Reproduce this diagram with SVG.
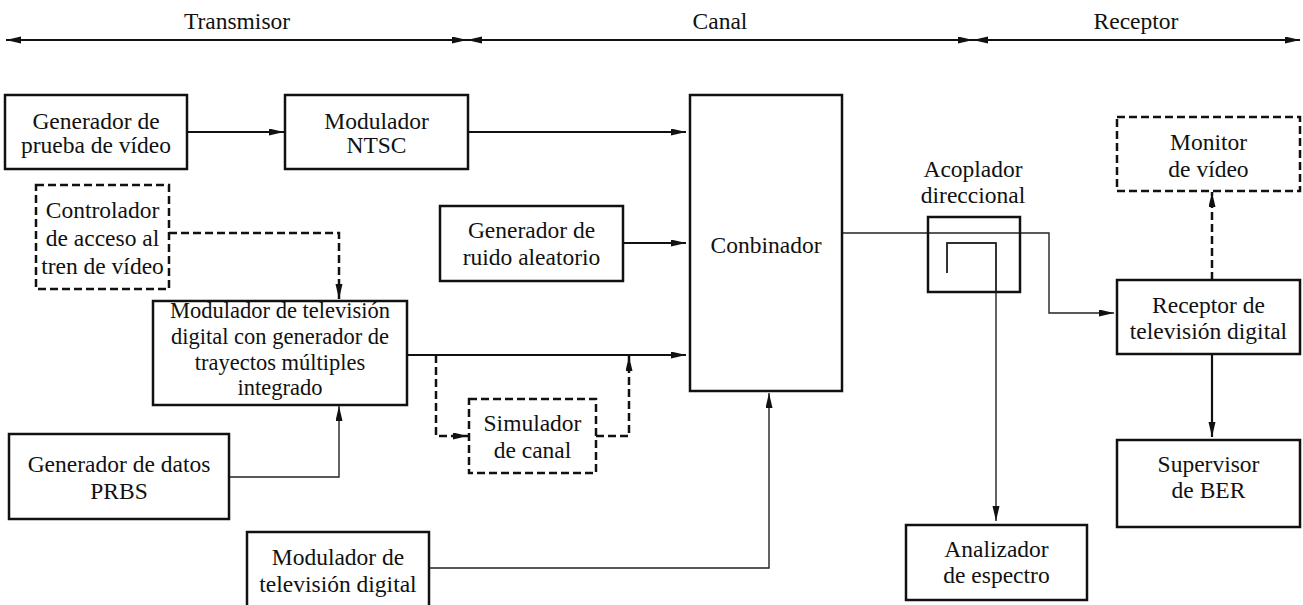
<svg xmlns="http://www.w3.org/2000/svg" width="1303" height="605" viewBox="0 0 1303 605" font-family="Liberation Serif, DejaVu Serif, serif">
<style>
text{font-size:23.5px;fill:#111;text-anchor:middle}
.box{fill:#fff;stroke:#111;stroke-width:2.5}
.dbox{fill:#fff;stroke:#111;stroke-width:2.5;stroke-dasharray:8 4}
.c{fill:none;stroke:#111;stroke-width:2.2}
.t{fill:none;stroke:#222;stroke-width:1.4}
.d{fill:none;stroke:#111;stroke-width:2.5;stroke-dasharray:8 4}
</style>
<defs>
<marker id="a" markerUnits="userSpaceOnUse" markerWidth="16" markerHeight="8" refX="15" refY="3.5" orient="auto-start-reverse" viewBox="0 0 16 8">
<path d="M0,0 L15,3.5 L0,7 z" fill="#111" stroke="none"/>
</marker>
</defs>
<g id="scale">
<line class="c" x1="6" y1="40" x2="467" y2="40" marker-start="url(#a)" marker-end="url(#a)"/>
<line class="c" x1="467" y1="40" x2="973" y2="40" marker-start="url(#a)" marker-end="url(#a)"/>
<line class="c" x1="973" y1="40" x2="1300" y2="40" marker-start="url(#a)" marker-end="url(#a)"/>
<text x="237" y="29">Transmisor</text>
<text x="720" y="29">Canal</text>
<text x="1136" y="29">Receptor</text>
</g>
<g id="connectors">
<path class="c" d="M187,132 H284" marker-end="url(#a)"/>
<path class="c" d="M468,132 H686" marker-end="url(#a)"/>
<path class="c" d="M623,243 H686" marker-end="url(#a)"/>
<path class="c" d="M407,355 H686" marker-end="url(#a)"/>
<path class="d" d="M169,233 H339 V299" marker-end="url(#a)"/>
<path class="t" d="M229,477 H339 V406" marker-end="url(#a)"/>
<path class="d" d="M436,355 V436 H468" marker-end="url(#a)"/>
<path class="d" d="M596,436 H629 V356" marker-end="url(#a)"/>
<path class="t" d="M429,568 H769 V393" marker-end="url(#a)"/>
<path class="t" d="M842,233 H1049 V313 H1114" marker-end="url(#a)"/>
<path class="t" d="M947,273 V243 H996 V521" marker-end="url(#a)"/>
<path class="d" d="M1212,280 V192" marker-end="url(#a)"/>
<path class="c" d="M1212,354 V437" marker-end="url(#a)"/>
</g>
<g id="gen-prueba"><rect class="box" x="5" y="95" width="182" height="74"/><text x="96" y="129">Generador de</text><text x="96" y="153">prueba de vídeo</text></g>
<g id="mod-ntsc"><rect class="box" x="285" y="95" width="183" height="74"/><text x="376.5" y="129">Modulador</text><text x="376.5" y="153">NTSC</text></g>
<g id="controlador"><rect class="dbox" x="36" y="185" width="133" height="104"/><text x="102.5" y="218">Controlador</text><text x="102.5" y="246">de acceso al</text><text x="102.5" y="274">tren de vídeo</text></g>
<g id="mod-tv-multi"><rect class="box" x="153" y="301" width="254" height="104"/><text x="280" y="318" style="font-size:22.5px">Modulador de televisión</text><text x="280" y="344" style="font-size:22.5px">digital con generador de</text><text x="280" y="370" style="font-size:22.5px">trayectos múltiples</text><text x="280" y="395" style="font-size:22.5px">integrado</text></g>
<g id="gen-prbs"><rect class="box" x="9" y="434" width="220" height="85"/><text x="119" y="472">Generador de datos</text><text x="119" y="499">PRBS</text></g>
<g id="mod-tv"><rect class="box" x="247" y="532" width="182" height="80"/><text x="338" y="565">Modulador de</text><text x="338" y="592">televisión digital</text></g>
<g id="gen-ruido"><rect class="box" x="440" y="206" width="183" height="75"/><text x="531.5" y="238">Generador de</text><text x="531.5" y="265">ruido aleatorio</text></g>
<g id="simulador"><rect class="dbox" x="469" y="399" width="127" height="74"/><text x="532.5" y="431">Simulador</text><text x="532.5" y="458">de canal</text></g>
<g id="conbinador"><rect class="box" x="690" y="95" width="152" height="296"/><text x="766" y="253">Conbinador</text></g>
<g id="acoplador"><rect x="928" y="217" width="92" height="75" fill="none" stroke="#111" stroke-width="2.5"/><path class="t" d="M947,273 V243 H996 V292"/><text x="973" y="177">Acoplador</text><text x="973" y="203">direccional</text></g>
<g id="monitor"><rect class="dbox" x="1117" y="117" width="183" height="74"/><text x="1208.5" y="150">Monitor</text><text x="1208.5" y="177">de vídeo</text></g>
<g id="receptor"><rect class="box" x="1117" y="280" width="183" height="74"/><text x="1208.5" y="313">Receptor de</text><text x="1208.5" y="339">televisión digital</text></g>
<g id="supervisor"><rect class="box" x="1117" y="440" width="183" height="87"/><text x="1208.5" y="472">Supervisor</text><text x="1208.5" y="498">de BER</text></g>
<g id="analizador"><rect class="box" x="906" y="525" width="181" height="75"/><text x="996.5" y="557">Analizador</text><text x="996.5" y="583">de espectro</text></g>
</svg>
